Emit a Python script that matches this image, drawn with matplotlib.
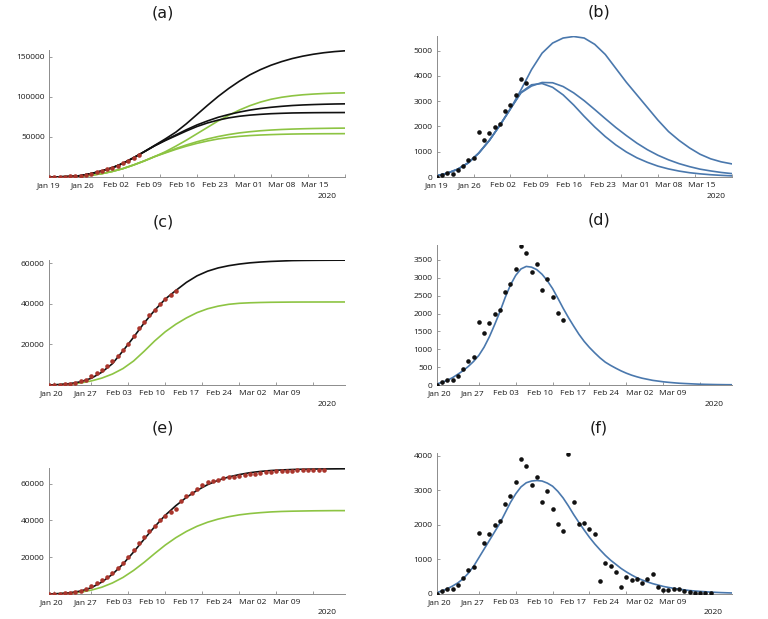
import matplotlib.pyplot as plt
import matplotlib.dates as mdates
import numpy as np

plt.rcParams['font.family'] = ['Open Sans', 'DejaVu Sans']

START = mdates.datestr2num('2020-01-19')
model_days = np.arange(0, 57, 2)      # cumulative model curves read every 2 days
fine_days = np.arange(0, 57)          # single daily fits read every day
obs_days = np.arange(0, 53)           # one observation per day

# observed daily new cases (black dots) and cumulative cases (red dots)
daily_new = [0, 87, 145, 135, 260, 453, 684, 771, 1774, 1465,
             1735, 1986, 2102, 2593, 2834, 3239, 3895, 3702, 3152, 3393,
             2651, 2979, 2468, 2015, 1822, 4058, 2651, 2015, 2053, 1889,
             1745, 386, 887, 819, 646, 212, 501, 395, 434, 328,
             424, 569, 202, 116, 116, 135, 135, 87, 48, 39,
             19, 29, 19]
cum_cases = [0, 87, 232, 367, 627, 1080, 1764, 2535, 4309, 5774,
             7509, 9495, 11597, 14190, 17024, 20263, 24158, 27860, 31012, 34405,
             37056, 40035, 42503, 44518, 46340, 50398, 53049, 55064, 57117, 59006,
             60751, 61137, 62024, 62843, 63489, 63701, 64202, 64597, 65031, 65359,
             65783, 66352, 66554, 66670, 66786, 66921, 67056, 67143, 67191, 67230,
             67249, 67278, 67297]

# (a) cumulative model curves
a_black = [
    [0, 230, 630, 1700, 4300, 7500, 11600, 17000, 24000, 31500, 39500, 47500, 56000, 66500, 78000,
     89500, 100500, 110500, 119500, 127500, 134000, 139500, 144000, 147800, 150800, 153200, 155100, 156500, 157500],
    [0, 230, 630, 1700, 4300, 7500, 11600, 17000, 24000, 31500, 39000, 46000, 52500, 59000, 65000,
     70000, 74500, 78000, 81000, 83500, 85500, 87000, 88200, 89200, 89900, 90400, 90800, 91100, 91300],
    [0, 230, 630, 1700, 4300, 7500, 11600, 17000, 24000, 31500, 39000, 45500, 51500, 57500, 63000,
     67500, 71000, 73800, 75800, 77200, 78200, 79000, 79500, 79900, 80100, 80250, 80350, 80400, 80450],
]
a_green = [
    [0, 150, 400, 1000, 2300, 4200, 7000, 10500, 15000, 20000, 25500, 31500, 38500, 46000, 54000,
     62000, 70000, 77000, 83500, 89000, 93500, 97000, 99500, 101300, 102600, 103500, 104200, 104700, 105000],
    [0, 150, 400, 1000, 2300, 4200, 7000, 10500, 15000, 20000, 25500, 30500, 35500, 40000, 44000,
     47500, 50500, 53000, 55000, 56500, 57700, 58600, 59300, 59800, 60200, 60500, 60700, 60900, 61000],
    [0, 150, 400, 1000, 2300, 4200, 7000, 10500, 15000, 20000, 25500, 30000, 34500, 38500, 42000,
     45000, 47500, 49300, 50700, 51700, 52400, 52900, 53300, 53600, 53800, 53900, 54000, 54050, 54100],
]

# (b) daily model curves
b_blue = [
    [50, 150, 310, 560, 950, 1450, 2050, 2700, 3350, 3650, 3700, 3550, 3250, 2850, 2400,
     1980, 1600, 1270, 990, 760, 580, 430, 320, 235, 170, 125, 90, 65, 45],
    [50, 150, 310, 560, 950, 1450, 2050, 2700, 3330, 3600, 3740, 3730, 3580, 3330, 3020,
     2670, 2310, 1960, 1640, 1340, 1080, 860, 680, 530, 410, 310, 240, 180, 135],
    [50, 150, 310, 560, 950, 1450, 2050, 2700, 3450, 4250, 4900, 5300, 5500, 5560, 5500,
     5250, 4850, 4300, 3750, 3250, 2750, 2250, 1800, 1450, 1150, 900, 720, 600, 520],
]

# (c) cumulative fit
c_black = [0, 250, 700, 1600, 3300, 6300, 10500, 16800, 23500, 30500, 36800, 42300, 46500, 50500, 53700,
           56000, 57600, 58700, 59500, 60100, 60500, 60800, 61000, 61200, 61280, 61330, 61370, 61400, 61420]
c_green = [0, 150, 450, 1000, 2000, 3400, 5400, 8100, 11800, 16600, 21700, 26200, 29900, 33000, 35600,
           37500, 38800, 39700, 40200, 40450, 40600, 40700, 40750, 40800, 40820, 40830, 40840, 40850, 40850]

# (d) daily fit
d_blue = [30, 75, 130, 205, 300, 400, 520, 660, 830, 1060,
          1350, 1690, 2050, 2450, 2800, 3070, 3250, 3320, 3300, 3230,
          3100, 2920, 2700, 2430, 2150, 1890, 1650, 1420, 1220, 1050,
          900, 760, 640, 550, 470, 395, 330, 275, 230, 190,
          160, 130, 110, 90, 75, 62, 50, 42, 35, 28,
          22, 18, 15, 12, 10, 8, 7]

# (e) cumulative fit
e_black = [0, 250, 700, 1600, 3400, 6500, 10700, 16300, 22800, 29800, 36600, 42800, 48000, 52500, 56300,
           59400, 61800, 63600, 64900, 65900, 66600, 67100, 67400, 67650, 67800, 67900, 67950, 68000, 68050]
e_green = [0, 150, 450, 1000, 2100, 3700, 6000, 9000, 12800, 17200, 22000, 26600, 30600, 34000, 36800,
           39000, 40700, 42000, 43000, 43700, 44200, 44600, 44850, 45000, 45100, 45200, 45250, 45300, 45300]

# (f) daily fit
f_blue = [40, 90, 150, 230, 320, 440, 600, 800, 1050, 1300,
          1550, 1800, 2050, 2350, 2650, 2900, 3100, 3220, 3270, 3285,
          3270, 3210, 3120, 2970, 2780, 2550, 2300, 2070, 1850, 1640,
          1450, 1280, 1120, 980, 860, 740, 640, 550, 470, 405,
          350, 300, 260, 220, 190, 165, 140, 120, 100, 87,
          75, 65, 55, 47, 40, 35, 30]

BLACK = '#111111'
GREEN = '#8DC443'
BLUE = '#4A78AD'
RED = '#A9352C'
AXC = '#8c8c8c'
TXT = '#1a1a1a'

W, H = 768, 619
fig = plt.figure(figsize=(W / 100, H / 100), dpi=100)


def px_axes(left, top, right, bottom):
    return fig.add_axes([left / W, 1 - bottom / H, (right - left) / W, (bottom - top) / H])


def style(ax, ymax, yticks, first_tick):
    ax.set_xlim(START, START + 56)
    ax.set_ylim(0, ymax)
    ax.spines[['top', 'right']].set_visible(False)
    for s in ('left', 'bottom'):
        ax.spines[s].set_color(AXC)
        ax.spines[s].set_linewidth(0.7)
    ticks = START + np.arange(first_tick, 57, 7)
    ax.set_xticks(ticks)
    ax.tick_params(axis='x', direction='in', length=2.5, width=0.6, color=AXC, labelbottom=False)
    ax.set_yticks(yticks)
    ax.set_yticklabels([str(v) for v in yticks])
    ax.tick_params(axis='y', direction='in', length=2, width=0.6, color=AXC,
                   labelsize=6, labelcolor=TXT, pad=3)
    # date labels sit on a slightly compressed scale, as in the original
    lab = ax.twiny()
    lab.set_xlim(START + 0.4, START + 0.4 + 56 / 0.905)
    lab.xaxis.tick_bottom()
    lab.set_xticks(ticks)
    lab.xaxis.set_major_formatter(mdates.DateFormatter('%b %d'))
    lab.tick_params(axis='x', length=0, pad=3.5, labelsize=6, labelcolor=TXT)
    for s in lab.spines.values():
        s.set_visible(False)


mx = START + model_days
fx = START + fine_days
ox = START + obs_days
LW = 1.2

# (a)
ax = px_axes(49, 50, 345, 177)
for ys in a_green:
    ax.plot(mx, ys, color=GREEN, lw=LW)
for ys in a_black:
    ax.plot(mx, ys, color=BLACK, lw=LW)
ax.plot(ox[:18], cum_cases[:18], 'o', color=RED, ms=3.3, mec='none', zorder=4)
style(ax, 158500, [50000, 100000, 150000], 0)

# (b)
ax = px_axes(436.7, 36, 731.7, 177)
for ys in b_blue:
    ax.plot(mx, ys, color=BLUE, lw=LW)
ax.plot(ox[:18], daily_new[:18], 'o', color=BLACK, ms=3.3, mec='none', zorder=4)
style(ax, 5580, list(range(0, 5001, 1000)), 0)

# (c)
ax = px_axes(49, 260, 345, 385)
ax.plot(mx, c_green, color=GREEN, lw=LW)
ax.plot(mx, c_black, color=BLACK, lw=LW)
ax.plot(ox[:25], cum_cases[:25], 'o', color=RED, ms=3.3, mec='none', zorder=4)
style(ax, 61500, [20000, 40000, 60000], 1)

# (d)
ax = px_axes(436.7, 245, 731.7, 385)
ax.plot(fx, d_blue, color=BLUE, lw=LW)
ax.plot(ox[:25], daily_new[:25], 'o', color=BLACK, ms=3.3, mec='none', zorder=4)
style(ax, 3920, list(range(0, 3501, 500)), 1)

# (e)
ax = px_axes(49, 468.3, 345, 594)
ax.plot(mx, e_green, color=GREEN, lw=LW)
ax.plot(mx, e_black, color=BLACK, lw=LW)
ax.plot(ox, cum_cases, 'o', color=RED, ms=3.3, mec='none', zorder=4)
style(ax, 68300, [20000, 40000, 60000], 1)

# (f)
ax = px_axes(436.7, 452.7, 731.7, 594)
ax.plot(fx, f_blue, color=BLUE, lw=LW)
ax.plot(ox, daily_new, 'o', color=BLACK, ms=3.3, mec='none', zorder=4)
style(ax, 4090, list(range(0, 4001, 1000)), 1)

# panel titles and year labels
for name, x, y in [('(a)', 163, 13), ('(b)', 599, 12), ('(c)', 163, 222),
                   ('(d)', 599, 220), ('(e)', 163, 428), ('(f)', 599, 428)]:
    fig.text(x / W, 1 - y / H, name, ha='center', va='center', fontsize=11.5,
             family='DejaVu Sans', color=TXT)
for x, y in [(326.7, 197), (715.7, 197), (326.7, 404), (714, 405), (326.7, 613), (713.3, 613)]:
    fig.text(x / W, 1 - y / H, '2020', ha='center', va='center', fontsize=6, color=TXT)

fig.savefig('out.png', dpi=100)
